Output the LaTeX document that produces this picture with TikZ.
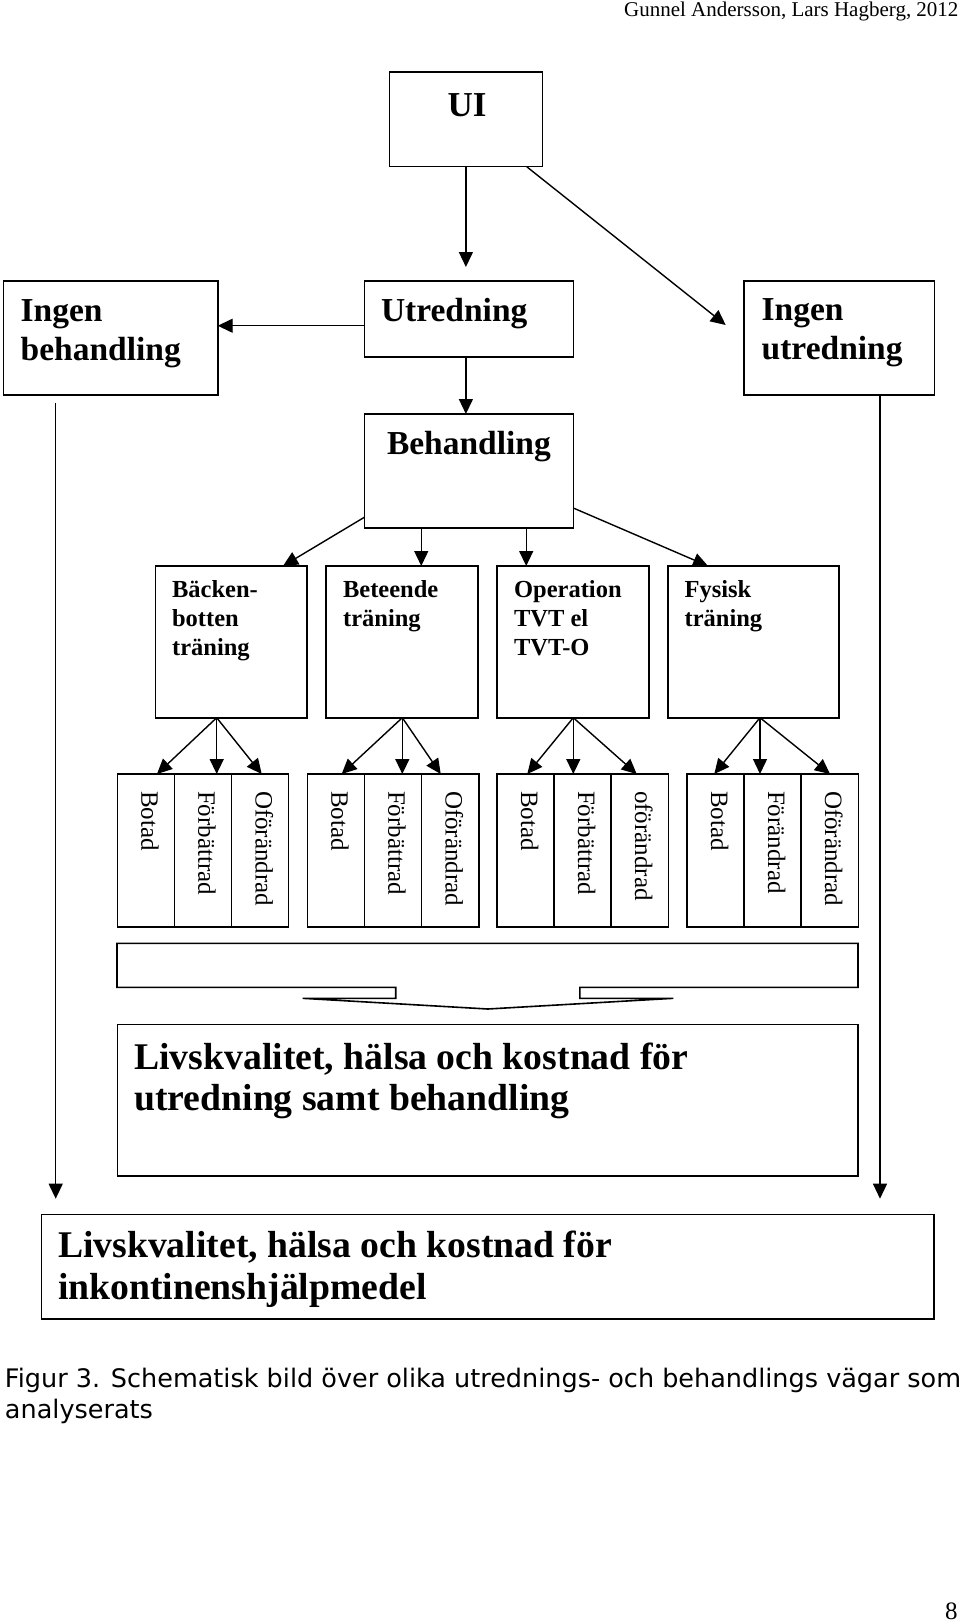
\documentclass[tikz,border=0pt]{standalone}
\usepackage{fontspec}
\setmainfont{Liberation Serif}
\newfontfamily\capfont{DejaVu Sans}
\usetikzlibrary{arrows.meta}
\newcommand\fsz[2]{\fontsize{#1pt}{#2pt}\selectfont}
\newcommand\topln{\rule{0pt}{1em}}
\begin{document}
\begin{tikzpicture}[x=1pt,y=-1pt,
  box/.style={draw, line width=1.6pt, inner sep=0pt, outer sep=0pt, rectangle},
  obox/.style={box, minimum width=57.13pt, minimum height=152.7pt},
  tbox/.style={box, minimum height=151.7pt},
  arr/.style={line width=1.4pt, -{Triangle[length=15pt,width=14pt]}},
  txt/.style={inner sep=0pt, outer sep=0pt, align=left},
  bigb/.style={txt, font=\bfseries\fsz{33.5}{39}},
  midb/.style={txt, font=\bfseries\fsz{24.5}{29}},
  hugeb/.style={txt, font=\bfseries\fsz{37.7}{41.5}},
  otxt/.style={inner sep=0pt, outer sep=0pt, rotate=-90, anchor=base west, font=\fsz{25}{29}}]
\fill[white] (0,0) rectangle (960,1624);
\useasboundingbox (0,0) rectangle (960,1624);

% header and page number
\node[txt, anchor=base east, font=\fsz{21}{24}] (hdr) at (958.5,17) {Gunnel Andersson, Lars Hagberg, 2012};
\node[txt, anchor=base east, font=\fsz{25}{28}] (pg) at (957.5,1619.5) {8};

% top boxes
\node[box, minimum width=152.8pt, minimum height=94.7pt] (ui) at (465.9,119.35) {};
\node[txt, anchor=base, font=\bfseries\fsz{35}{40}] (uit) at (467,116.7) {UI};
\node[box, minimum width=209pt, minimum height=75.7pt] (utr) at (468.8,318.85) {};
\node[bigb, anchor=base west] (utrt) at (381,321.5) {Utredning};
\node[box, minimum width=214.4pt, minimum height=114pt] (ib) at (110.5,338) {};
\node[bigb, anchor=north west] (ibt) at (20.7,287.5) {\topln Ingen\\behandling};
\node[box, minimum width=190.3pt, minimum height=114pt] (iu) at (839.15,338) {};
\node[bigb, anchor=north west] (iut) at (761.7,287.2) {\topln Ingen\\utredning};
\node[box, minimum width=209pt, minimum height=113.7pt] (beh) at (468.8,470.85) {};
\node[bigb, anchor=base west] (beht) at (387,454) {Behandling};

% treatment boxes
\node[tbox, minimum width=151.4pt] (t1) at (231.3,641.85) {};
\node[tbox, minimum width=152pt] (t2) at (402,641.85) {};
\node[tbox, minimum width=152pt] (t3) at (573,641.85) {};
\node[tbox, minimum width=171pt] (t4) at (753.5,641.85) {};
\node[midb, anchor=north west] (t1t) at (172.1,573) {\topln Bäcken-\\botten\\träning};
\node[midb, anchor=north west] (t2t) at (343.1,573) {\topln Beteende\\träning};
\node[midb, anchor=north west] (t3t) at (514.1,573) {\topln Operation\\TVT el\\TVT-O};
\node[midb, anchor=north west] (t4t) at (684.6,573) {\topln Fysisk\\träning};

% outcome columns
\foreach \n/\cx/\lab in {11/145.87/Botad, 12/203/Förbättrad, 13/260.13/Oförändrad,
  21/335.87/Botad, 22/393/Förbättrad, 23/450.13/Oförändrad,
  31/525.8/Botad, 32/582.8/Förbättrad, 33/639.8/oförändrad,
  41/715.8/Botad, 42/772.8/Förändrad, 43/829.8/Oförändrad}{
  \node[obox] (o\n) at (\cx,850.35) {};
  \node[otxt] (ot\n) at (\cx-4.57,791) {\lab};
}

% band with block arrow
\draw[line width=1.6pt, line join=miter] (117,943.3) -- (858,943.3) -- (858,987.3) -- (579.9,987.3)
  -- (579.9,998.3) -- (673.4,998.3) -- (487.8,1009) -- (302.6,998.3) -- (395.7,998.3)
  -- (395.7,987.3) -- (117,987.3) -- cycle;

% result boxes
\node[box, minimum width=740.7pt, minimum height=151.7pt] (q1) at (487.65,1100.15) {};
\node[hugeb, anchor=north west] (q1t) at (134.3,1031.3) {\topln Livskvalitet, hälsa och kostnad för\\utredning samt behandling};
\node[box, minimum width=892.4pt, minimum height=104.7pt] (q2) at (487.8,1266.65) {};
\node[hugeb, anchor=north west] (q2t) at (58,1219.8) {\topln Livskvalitet, hälsa och kostnad för\\inkontinenshjälpmedel};

% caption
\node[txt, anchor=north west, font=\capfont\fsz{25.5}{31}] (cap) at (5,1361.8) {\topln Figur 3. Schematisk bild över olika utrednings- och behandlings vägar som\\analyserats};

% connectors
\draw[arr, shorten >=14pt] (ui.south) -- (ui.south |- utr.north);
\coordinate (diagend) at (725.7,325);
\draw[arr] ([xshift=-15.6pt]ui.south east) -- (diagend);
\coordinate (u1) at ([yshift=-6.9pt]utr.west);
\draw[arr] (u1) -- (u1 -| ib.east);
\draw[arr] (ui.south |- utr.south) -- (ui.south |- beh.north);

\draw[arr] ([yshift=-46.45pt]beh.west) -- ([xshift=51.7pt]t1.north);
\coordinate (b2) at ([xshift=19.25pt]t2.north);
\draw[arr] (b2 |- beh.south) -- (b2);
\coordinate (b3) at ([xshift=-46.8pt]t3.north);
\draw[arr] (b3 |- beh.south) -- (b3);
\draw[arr] ([yshift=-37.15pt]beh.east) -- ([xshift=-45.5pt]t4.north);

\draw[arr] ([xshift=-14.6pt]t1.south) -- ([xshift=11.1pt]o11.north);
\draw[arr] ([xshift=-14.6pt]t1.south) -- ([xshift=13.7pt]o12.north);
\draw[arr] ([xshift=-14.6pt]t1.south) -- ([xshift=1.6pt]o13.north);
\draw[arr] ([xshift=0.3pt]t2.south) -- ([xshift=5.8pt]o21.north);
\draw[arr] ([xshift=0.3pt]t2.south) -- ([xshift=9.3pt]o22.north);
\draw[arr] ([xshift=0.3pt]t2.south) -- ([xshift=-9.4pt]o23.north);
\draw[arr] ([xshift=0.3pt]t3.south) -- ([xshift=1.5pt]o31.north);
\draw[arr] ([xshift=0.3pt]t3.south) -- ([xshift=-9.5pt]o32.north);
\draw[arr] ([xshift=0.3pt]t3.south) -- ([xshift=-3.1pt]o33.north);
\draw[arr] ([xshift=6.5pt]t4.south) -- ([xshift=-1.5pt]o41.north);
\draw[arr] ([xshift=6.5pt]t4.south) -- ([xshift=-12.8pt]o42.north);
\draw[arr] ([xshift=6.5pt]t4.south) -- ([xshift=0.2pt]o43.north);

\coordinate (l1) at ([xshift=-54.8pt,yshift=-7.7pt]ib.south);
\draw[arr, line width=1.3pt, shorten >=15.6pt] (l1) -- (l1 |- q2.north);
\coordinate (r1) at ([xshift=40.85pt]iu.south);
\draw[arr, line width=1.3pt, shorten >=15.6pt] (r1) -- (r1 |- q2.north);
\end{tikzpicture}
\end{document}
